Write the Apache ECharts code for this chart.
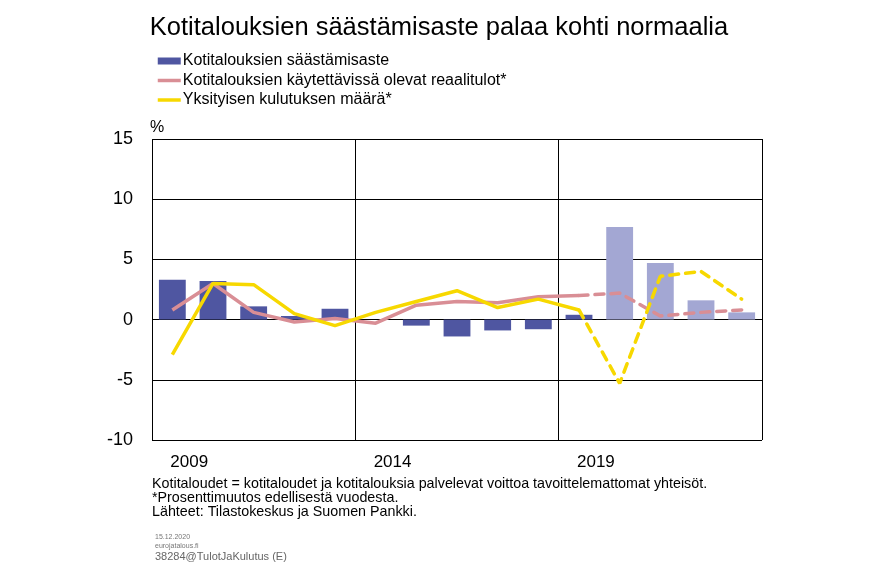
<!DOCTYPE html>
<html><head><meta charset="utf-8">
<script src="https://cdn.jsdelivr.net/npm/echarts@6/dist/echarts.min.js"></script>
<style>html,body{margin:0;padding:0;background:#fff}#c{width:878px;height:573px}</style>
</head><body><div id="c"></div>
<script>
const years = ['2009','2010','2011','2012','2013','2014','2015','2016','2017','2018','2019','2020','2021','2022','2023'];
const savingRate = [3.3, 3.2, 1.1, 0.3, 0.9, 0.0, -0.5, -1.4, -0.9, -0.8, 0.4, 7.7, 4.7, 1.6, 0.6];
const realIncome = [0.8, 3.0, 0.6, -0.2, 0.1, -0.3, 1.2, 1.5, 1.4, 1.9, 2.0, 2.2, 0.3, 0.6, 0.8];
const consumption = [-2.9, 3.0, 2.9, 0.5, -0.5, 0.6, 1.5, 2.4, 1.0, 1.7, 0.8, -5.3, 3.6, 4.0, 1.7];
const forecastFrom = 10; // index of 2019, last actual year
const yTicks = [-10, -5, 0, 5, 10, 15];
const names = ['Kotitalouksien säästämisaste', 'Kotitalouksien käytettävissä olevat reaalitulot*', 'Yksityisen kulutuksen määrä*'];

const C_BAR = '#4f56a1', C_BAR_F = '#a3a7d3', C_INC = '#d98e95', C_CON = '#f7d800';
const FONT = 'Liberation Sans, Arial, sans-serif';

const solid = a => a.map((v, i) => i <= forecastFrom ? v : null);
const dashed = a => a.map((v, i) => i >= forecastFrom ? v : null);

const chart = echarts.init(document.getElementById('c'));
chart.setOption({
  animation: false,
  textStyle: { fontFamily: FONT },
  title: {
    text: 'Kotitalouksien säästämisaste palaa kohti normaalia',
    left: 'center', top: 10,
    textStyle: { fontFamily: FONT, fontSize: 25.5, fontWeight: 'normal', color: '#000' }
  },
  legend: {
    orient: 'vertical', left: 151, top: 48, itemGap: 3.5, itemWidth: 23, itemHeight: 7,
    textStyle: { fontFamily: FONT, fontSize: 16, color: '#000', padding: [0,0,0,-3] },
    data: [
      { name: names[0], icon: 'rect' },
      { name: names[1], itemStyle: { opacity: 0 }, lineStyle: { width: 3.5 } },
      { name: names[2], itemStyle: { opacity: 0 }, lineStyle: { width: 3.5 } }
    ]
  },
  grid: { left: 152, right: 116, top: 139, bottom: 133, show: false },
  xAxis: [
    {
      type: 'category', data: years, boundaryGap: true,
      axisLine: { show: false, onZero: false }, axisTick: { show: false },
      splitLine: { show: false },
      axisLabel: { interval: (i) => i % 5 === 0, align: 'left', margin: 14, fontSize: 17, color: '#000', fontFamily: FONT, padding: [0,0,0,-2] }
    },
    {
      type: 'value', min: 0, max: 15, interval: 5, position: 'top',
      axisLine: { show: false }, axisTick: { show: false }, axisLabel: { show: false },
      splitLine: { show: true, lineStyle: { color: '#000', width: 1 } }
    }
  ],
  yAxis: {
    type: 'value', min: yTicks[0], max: yTicks[yTicks.length - 1], interval: 5,
    name: '%', nameGap: 3, nameLocation: 'end',
    nameTextStyle: { fontFamily: FONT, fontSize: 16, color: '#000', align: 'left', padding: [0,0,0,-2] },
    axisLine: { show: false }, axisTick: { show: false },
    axisLabel: { fontSize: 18, color: '#000', margin: 19, fontFamily: FONT },
    splitLine: { show: true, lineStyle: { color: '#000', width: 1 } }
  },
  series: [
    {
      name: names[0], type: 'bar', xAxisIndex: 0, barWidth: '66%', z: 2,
      itemStyle: { color: C_BAR },
      data: savingRate.map((v, i) => ({ value: v, itemStyle: { color: i > forecastFrom ? C_BAR_F : C_BAR } }))
    },
    {
      name: names[1], type: 'line', xAxisIndex: 0, data: solid(realIncome), symbol: 'none', z: 3,
      lineStyle: { color: C_INC, width: 3.5 }, itemStyle: { color: C_INC }
    },
    {
      name: 'inc_f', type: 'line', xAxisIndex: 0, data: dashed(realIncome), symbol: 'none', z: 3,
      lineStyle: { color: C_INC, width: 3.5, type: [9, 7], cap: 'round' }
    },
    {
      name: names[2], type: 'line', xAxisIndex: 0, data: solid(consumption), symbol: 'none', z: 4,
      lineStyle: { color: C_CON, width: 3.5 }, itemStyle: { color: C_CON }
    },
    {
      name: 'con_f', type: 'line', xAxisIndex: 0, data: dashed(consumption), symbol: 'none', z: 4,
      lineStyle: { color: C_CON, width: 3.5, type: [9, 7], cap: 'round' }
    }
  ],
  graphic: [
    { type: 'text', left: 152, top: 477, style: { text: 'Kotitaloudet = kotitaloudet ja kotitalouksia palvelevat voittoa tavoittelemattomat yhteisöt.\n*Prosenttimuutos edellisestä vuodesta.\nLähteet: Tilastokeskus ja Suomen Pankki.', font: '14.3px ' + FONT, lineHeight: 14, fill: '#000' } },
    { type: 'text', left: 155, top: 533, style: { text: '15.12.2020\neurojatalous.fi', font: '7px ' + FONT, lineHeight: 9, fill: '#777' } },
    { type: 'text', left: 155, top: 551, style: { text: '38284@TulotJaKulutus (E)', font: '11px ' + FONT, fill: '#666' } }
  ]
});
</script></body></html>
